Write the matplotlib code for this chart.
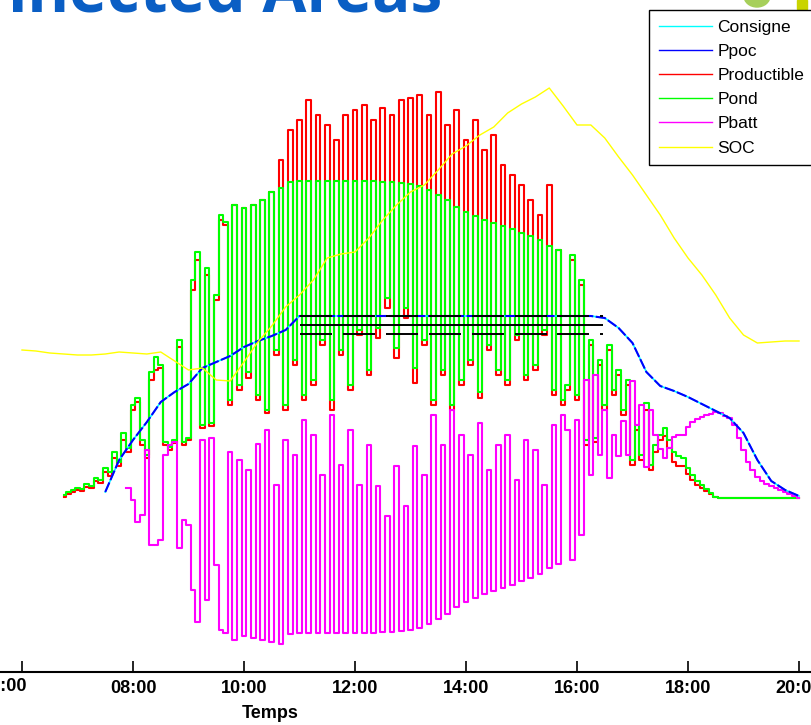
import numpy as np
import matplotlib
matplotlib.use("Agg")
import matplotlib.pyplot as plt
from matplotlib.lines import Line2D
from matplotlib.patches import Ellipse, Rectangle

# 5-minute samples from 06:45 to 20:00 (kW)
T0_5MIN = 6.75
pond = [30, 60, 80, 100, 90, 140, 120, 200, 180, 300,
        260, 460, 360, 650, 500, 930, 1000, 580, 430, 1260,
        1410, 1330, 560, 510, 580, 1580, 560, 600, 2180, 2460,
        730, 2300, 750, 2030, 2830, 2760, 980, 2930, 1130, 2900,
        1260, 2930, 1030, 2980, 880, 3060, 1480, 3100, 930, 3160,
        1380, 3170, 1030, 3170, 1180, 3170, 1580, 3170, 980, 3170,
        1480, 3170, 1130, 3170, 1680, 3170, 1280, 3170, 1700, 3160,
        2000, 3160, 1500, 3150, 1900, 3140, 1300, 3120, 1580, 3080,
        980, 3030, 1280, 2980, 930, 2910, 1180, 2860, 1380, 2820,
        1060, 2780, 1530, 2750, 1280, 2720, 1180, 2690, 1630, 2650,
        1230, 2620, 1330, 2580, 1680, 2520, 1080, 2480, 980, 1130,
        2430, 1030, 2180, 580, 1580, 600, 1380, 930, 1530, 1080,
        1280, 880, 1180, 380, 730, 430, 950, 330, 530, 630,
        700, 580, 460, 420, 400, 300, 230, 170, 130, 90,
        50, 10, 0, 0, 0, 0, 0, 0, 0, 0,
        0, 0, 0, 0, 0, 0, 0, 0, 0, 0]
productible = [10, 40, 60, 80, 70, 110, 100, 170, 150, 260,
               220, 400, 320, 580, 460, 880, 960, 530, 400, 1180,
               1280, 1300, 530, 480, 550, 1510, 530, 580, 2080, 2380,
               700, 2230, 720, 1980, 2780, 2730, 930, 2930, 1080, 2900,
               1200, 2930, 980, 2980, 850, 3060, 1430, 3380, 880, 3680,
               1330, 3780, 980, 3980, 1130, 3830, 1530, 3730, 880, 3580,
               1430, 3830, 1080, 3880, 1630, 3930, 1230, 3780, 1600, 3900,
               1900, 3830, 1400, 3980, 1800, 4000, 1150, 4030, 1530, 3830,
               930, 4060, 1230, 3730, 880, 3880, 1130, 3580, 1330, 3780,
               1000, 3480, 1480, 3630, 1230, 3330, 1130, 3230, 1580, 3130,
               1180, 2980, 1280, 2830, 1630, 3130, 1030, 2480, 930, 1080,
               2380, 980, 2130, 530, 1530, 560, 1330, 880, 1480, 1030,
               1230, 830, 1130, 330, 680, 380, 880, 280, 460, 580,
               620, 500, 360, 320, 320, 240, 180, 130, 100, 70,
               40, 10, 0, 0, 0, 0, 0, 0, 0, 0,
               0, 0, 0, 0, 0, 0, 0, 0, 0, 0]
pbatt = [None] * 14 + [
    100, -20, -240, -170, 480, -470,
    -470, -420, 430, 530, 560, -500, -220, -270, -920, -1240,
    580, -1020, 600, -670, -1320, -1350, 460, -1420, 380, -1380,
    280, -1400, 540, -1420, 680, -1440, 130, -1460, 580, -1360,
    430, -1350, 780, -1350, 630, -1350, 230, -1350, 830, -1350,
    330, -1350, 680, -1350, 130, -1350, 530, -1350, 120, -1340,
    -180, -1340, 320, -1330, -80, -1320, 520, -1300, 230, -1260,
    830, -1210, 530, -1160, 880, -1090, 630, -1040, 430, -1000,
    750, -960, 280, -930, 530, -900, 630, -870, 180, -830,
    580, -800, 480, -760, 130, -700, 730, -660, 830, 680,
    -620, 780, -370, 1180, 230, 1230, 430, 880, 200, 630,
    420, 770, 430, 1170, 730, 930, 310, 880, 630, 490,
    400, 500, 610, 630, 630, 710, 760, 790, 810, 830,
    840, 860, 850, 820, 800, 730, 600, 480, 360, 280,
    210, 170, 140, 120, 100, 80, 60, 40, 20, 0]

# 15-minute samples
T0_SOC = 6.0
soc = [1480, 1470, 1450, 1440, 1430, 1430, 1440, 1460, 1450, 1440,
       1460, 1370, 1280, 1300, 1180, 1170, 1360, 1560, 1720, 1910,
       2030, 2180, 2400, 2440, 2460, 2600, 2780, 2930, 3060, 3130,
       3280, 3440, 3520, 3630, 3710, 3850, 3940, 4010, 4100, 3920,
       3730, 3730, 3600, 3410, 3230, 3030, 2830, 2600, 2400, 2230,
       2030, 1800, 1630, 1550, 1560, 1570, 1570]
T0_POC = 7.5
ppoc = [60, 380, 580, 760, 960, 1060, 1140, 1300, 1360, 1420,
        1510, 1570, 1620, 1680, 1820, 1820, 1820, 1820, 1820, 1820,
        1820, 1820, 1820, 1820, 1820, 1820, 1820, 1820, 1820, 1820,
        1820, 1820, 1820, 1820, 1820, 1820, 1800, 1700, 1550, 1260,
        1120, 1070, 1010, 940, 870, 800, 650, 380, 170, 80, 20]
consigne = [60, 380, 580, 760, 960, 1060, 1140, 1300, 1360, 1420,
            1510, 1570, 1620, 1680, 1820, 1820, 1820, 1820, 1820, 1820,
            1820, 1820, 1820, 1820, 1820, 1820, 1820, 1820, 1820, 1820,
            1820, 1820, 1820, 1820, 1820, 1820, 1800, 1700, 1550, 1260,
            1120, 1070, 1010, 940, 870, 800, 650, 380, 170, 80, 20]

# black reference bands (hours)
band_levels = [1820, 1730, 1640]
band_start = [11.0, 11.78, 12.56, 13.33, 14.11, 14.88, 15.64, 16.41]
band_end = [11.58, 12.36, 13.14, 13.91, 14.68, 15.46, 16.22, 16.47]

tick_hours = [6, 8, 10, 12, 14, 16, 18, 20]
tick_labels = ["06:00", "08:00", "10:00", "12:00", "14:00", "16:00", "18:00", "20:00"]

t5 = T0_5MIN + np.arange(len(pond)) / 12
t_soc = T0_SOC + np.arange(len(soc)) / 4
t_poc = T0_POC + np.arange(len(ppoc)) / 4

fig = plt.figure(figsize=(8.12, 7.25), dpi=100)
ax = fig.add_axes([0, 53 / 725, 1, 672 / 725])

ax.plot(t5, productible, color="#ff0000", lw=1.5, drawstyle="steps-mid")
ax.plot(t5, pond, color="#00ff00", lw=1.5, drawstyle="steps-mid")
ax.plot(t5, np.array(pbatt, dtype=float), color="#ff00ff", lw=1.5, drawstyle="steps-mid")
ax.plot(t_poc, consigne, color="#00ffff", lw=1.2)
ax.plot(t_poc, ppoc, color="#0000ff", lw=1.5, dashes=(5, 1.2))
ax.hlines(band_levels[1], band_start[0], band_end[-1], color="black", lw=1.4)
for lev in (band_levels[0], band_levels[2]):
    ax.hlines([lev] * len(band_start), band_start, band_end, color="black", lw=1.4)
ax.plot(t_soc, soc, color="#ffff00", lw=1.0)

ax.set_xlim(5.6036, 20.234)
ax.set_ylim(-1740, 4980)
for side in ("top", "right", "left"):
    ax.spines[side].set_visible(False)
ax.spines["bottom"].set_linewidth(1.5)
ax.set_yticks([])
ax.set_xticks(tick_hours)
tick_font = dict(fontsize=13, fontweight="bold", family="Liberation Sans")
ax.set_xticklabels([""] + tick_labels[1:], **tick_font)
ax.tick_params(axis="x", direction="in", length=8, width=1.2, pad=6)
# the first label sits left of its tick, only its end shows in the slide
ax.annotate(tick_labels[0], xy=(tick_hours[0], 0), xycoords=("data", "axes fraction"),
            xytext=(-13.5, -4.3), textcoords="offset points", ha="center", va="top",
            **tick_font)
ax.patch.set_alpha(0)

fig.text(270 / 812, 1 - 713 / 725, "Temps", ha="center", va="center", **tick_font)

# slide title, cut by the top edge
fig.text(442 / 812, 1 - 11 / 725, "Connected Areas", ha="right", va="baseline",
         fontsize=46, fontweight="bold", color="#0a5ec4", family="Open Sans")
# slide logo fragments at the top right corner
fig.add_artist(Ellipse((757 / 812, 1 + 4 / 725), 26 / 812, 22 / 725,
                       transform=fig.transFigure, color="#a6cf5a"))
fig.add_artist(Rectangle((797 / 812, 1 - 9 / 725), 10 / 812, 9 / 725,
                         transform=fig.transFigure, color="#c9d400"))

handles = [Line2D([], [], color=c, lw=1) for c in
           ("#00ffff", "#0000ff", "#ff0000", "#00ff00", "#ff00ff", "#ffff00")]
labels = ["Consigne", "Ppoc", "Productible", "Pond", "Pbatt", "SOC"]
leg = fig.legend(handles, labels, loc="upper left", mode="expand",
                 bbox_to_anchor=(649 / 812, 0, 180 / 812, 1 - 10 / 725),
                 prop={"family": "Liberation Sans", "size": 12.5}, handlelength=3.05,
                 handletextpad=0.35, labelspacing=0.52, borderpad=0.55,
                 borderaxespad=0, fancybox=False, framealpha=1)
leg.get_frame().set_edgecolor("black")
leg.get_frame().set_linewidth(1)

fig.savefig("out.png", dpi=100, facecolor="white")
